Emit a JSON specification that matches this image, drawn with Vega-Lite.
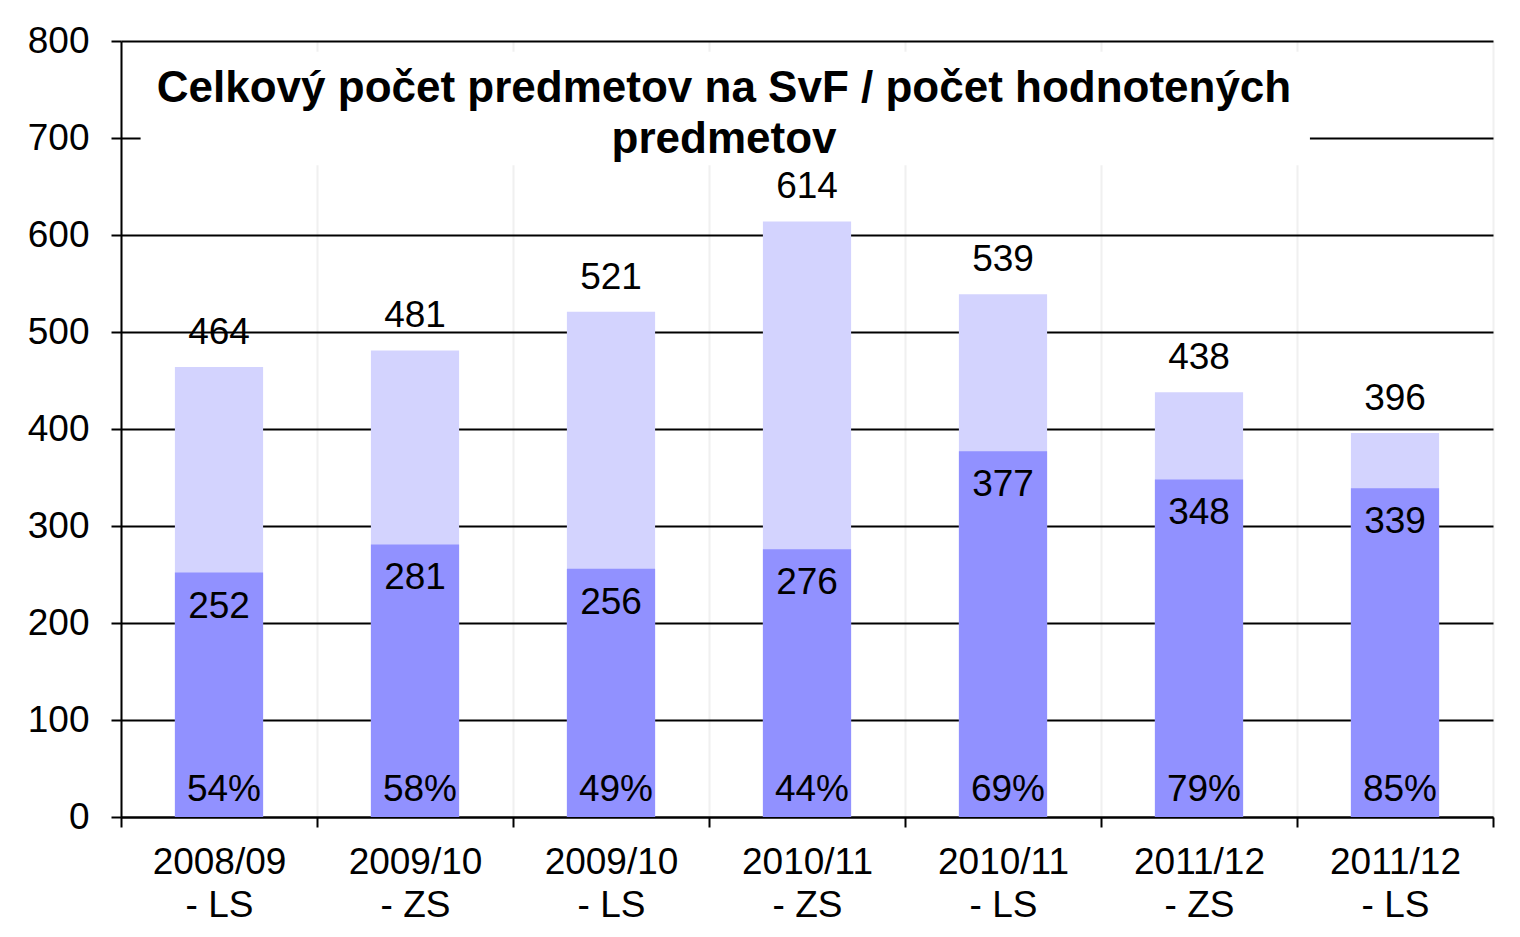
{
  "$schema": "https://vega.github.io/schema/vega-lite/v6.json",
  "autosize": "none",
  "width": 1372,
  "height": 776,
  "padding": {"left": 121, "top": 41, "right": 27, "bottom": 120},
  "background": "white",
  "config": {
    "font": "Liberation Sans",
    "view": {"stroke": null}
  },
  "data": {
    "values": [
      {"semester": "2008/09 - LS", "total": 464, "evaluated": 252, "pct": "54%"},
      {"semester": "2009/10 - ZS", "total": 481, "evaluated": 281, "pct": "58%"},
      {"semester": "2009/10 - LS", "total": 521, "evaluated": 256, "pct": "49%"},
      {"semester": "2010/11 - ZS", "total": 614, "evaluated": 276, "pct": "44%"},
      {"semester": "2010/11 - LS", "total": 539, "evaluated": 377, "pct": "69%"},
      {"semester": "2011/12 - ZS", "total": 438, "evaluated": 348, "pct": "79%"},
      {"semester": "2011/12 - LS", "total": 396, "evaluated": 339, "pct": "85%"}
    ]
  },
  "encoding": {
    "x": {
      "field": "semester",
      "type": "nominal",
      "sort": null,
      "scale": {"paddingInner": 0, "paddingOuter": 0},
      "axis": {
        "title": null,
        "labelExpr": "[slice(datum.label, 0, 7), slice(datum.label, 8)]",
        "labelFontSize": 37,
        "labelColor": "black",
        "labelLineHeight": 43,
        "labelPadding": 17,
        "labelAngle": 0,
        "tickBand": "extent",
        "tickSize": 10,
        "tickWidth": 2,
        "tickColor": "black",
        "domainColor": "black",
        "domainWidth": 2,
        "grid": true,
        "gridColor": "#f0f0f0",
        "gridWidth": 2,
        "zindex": 0
      }
    }
  },
  "layer": [
    {
      "mark": {"type": "bar", "color": "#d3d3fe", "width": {"band": 0.45}},
      "encoding": {
        "y": {
          "field": "total",
          "type": "quantitative",
          "scale": {"domain": [0, 800], "nice": false},
          "axis": {
            "title": null,
            "values": [0, 100, 200, 300, 400, 500, 600, 700, 800],
            "labelFontSize": 37,
            "labelColor": "black",
            "labelPadding": 22,
            "tickSize": 10,
            "tickWidth": 2,
            "tickColor": "black",
            "domainColor": "black",
            "domainWidth": 2,
            "grid": true,
            "gridColor": "black",
            "gridWidth": 2
          }
        }
      }
    },
    {
      "mark": {"type": "bar", "color": "#9191ff", "width": {"band": 0.45}},
      "encoding": {"y": {"field": "evaluated", "type": "quantitative"}}
    },
    {
      "mark": {"type": "text", "fontSize": 37, "color": "black", "baseline": "middle", "dy": -34},
      "encoding": {
        "y": {"field": "total", "type": "quantitative"},
        "text": {"field": "total", "type": "quantitative"}
      }
    },
    {
      "mark": {"type": "text", "fontSize": 37, "color": "black", "baseline": "middle", "dy": 34},
      "encoding": {
        "y": {"field": "evaluated", "type": "quantitative"},
        "text": {"field": "evaluated", "type": "quantitative"}
      }
    },
    {
      "mark": {"type": "text", "fontSize": 37, "color": "black", "baseline": "alphabetic", "dy": -16, "dx": 5},
      "encoding": {
        "y": {"datum": 0, "type": "quantitative"},
        "text": {"field": "pct", "type": "nominal"}
      }
    },
    {
      "data": {"values": [{"box": "title"}]},
      "mark": {"type": "rect", "color": "white"},
      "encoding": {
        "x": {"datum": "2008/09 - LS", "bandPosition": 0.1},
        "x2": {"datum": "2011/12 - LS", "bandPosition": 0.066},
        "y": {"datum": 672, "type": "quantitative"},
        "y2": {"datum": 789}
      }
    },
    {
      "data": {"values": [{"title": ["Celkový počet predmetov na SvF / počet hodnotených", "predmetov"]}]},
      "mark": {"type": "text", "fontSize": 44, "fontWeight": "bold", "color": "black", "baseline": "alphabetic", "align": "center", "lineHeight": 51, "dx": -83},
      "encoding": {
        "x": {"datum": "2010/11 - ZS"},
        "y": {"datum": 737, "type": "quantitative"},
        "text": {"field": "title"}
      }
    }
  ]
}
